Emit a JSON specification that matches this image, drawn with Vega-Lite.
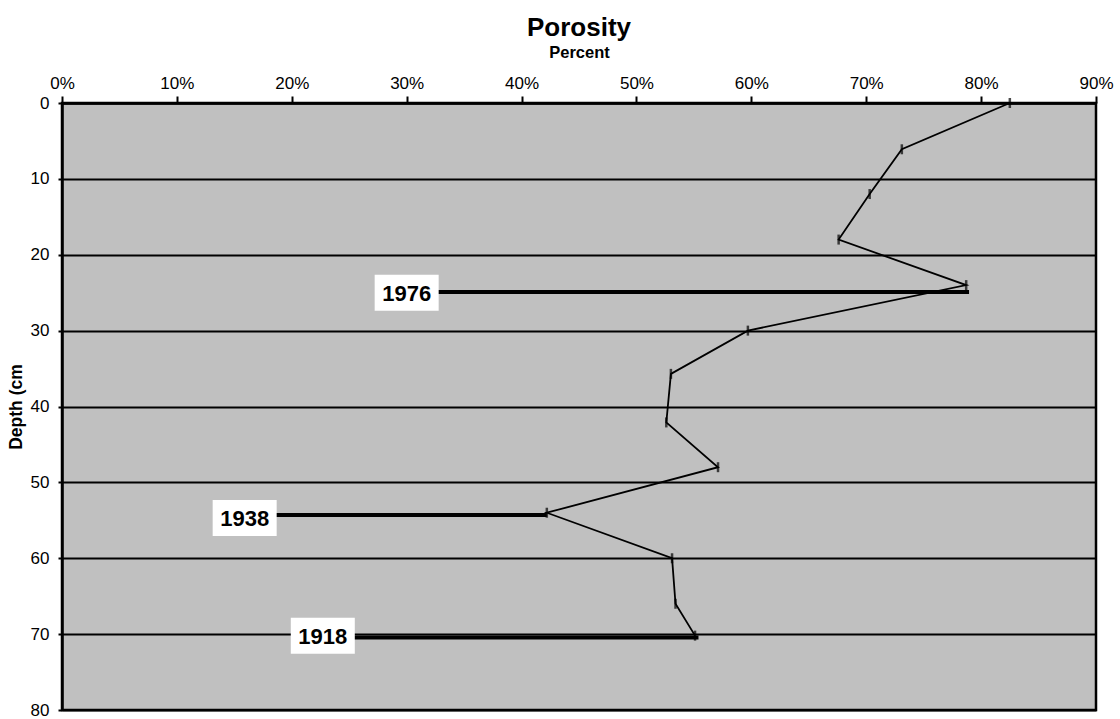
{
  "$schema": "https://vega.github.io/schema/vega-lite/v6.json",
  "width": 1034,
  "height": 607,
  "autosize": {"type": "none"},
  "padding": {"left": 62, "top": 103, "right": 24, "bottom": 9},
  "background": "white",
  "title": {"text": "Porosity", "fontSize": 26, "font": "Liberation Sans", "fontWeight": "bold", "color": "black", "anchor": "middle", "offset": 3},
  "config": {
    "view": {"fill": "#c0c0c0", "stroke": "black", "strokeWidth": 2.5},
    "axis": {"labelFont": "Liberation Sans", "labelFontSize": 17, "labelColor": "black", "labelFlush": false, "labelOverlap": false, "titleFont": "Liberation Sans", "titleFontWeight": "bold", "titleColor": "black", "domainColor": "black", "domainWidth": 2.5, "tickColor": "black", "tickWidth": 2, "gridColor": "black", "gridWidth": 2, "gridOpacity": 1}
  },
  "datasets": {
    "samples": [
      {"depth": 0, "porosity": 0.825},
      {"depth": 6.1, "porosity": 0.731},
      {"depth": 12, "porosity": 0.703},
      {"depth": 18, "porosity": 0.676},
      {"depth": 24, "porosity": 0.787},
      {"depth": 30, "porosity": 0.597},
      {"depth": 35.7, "porosity": 0.530},
      {"depth": 42.1, "porosity": 0.526},
      {"depth": 48, "porosity": 0.571},
      {"depth": 54, "porosity": 0.422},
      {"depth": 60, "porosity": 0.531},
      {"depth": 66, "porosity": 0.534},
      {"depth": 70.2, "porosity": 0.551}
    ],
    "events": [
      {"year": "1976", "start": 0.30, "end": 0.7895, "depth": 24.9, "labelDepth": 25.0},
      {"year": "1938", "start": 0.159, "end": 0.422, "depth": 54.3, "labelDepth": 54.7},
      {"year": "1918", "start": 0.227, "end": 0.554, "depth": 70.45, "labelDepth": 70.2}
    ]
  },
  "layer": [
    {
      "data": {"name": "samples"},
      "mark": {"type": "line", "color": "black", "strokeWidth": 1.8},
      "encoding": {
        "x": {"field": "porosity", "type": "quantitative", "scale": {"domain": [0, 0.9], "nice": false},
          "axis": {"orient": "top", "values": [0, 0.1, 0.2, 0.3, 0.4, 0.5, 0.6, 0.7, 0.8, 0.9], "format": ".0%", "grid": false, "tickSize": 7, "labelPadding": 4, "title": "Percent", "titleFontSize": 16.5, "titlePadding": 14}},
        "y": {"field": "depth", "type": "quantitative", "scale": {"domain": [0, 80], "reverse": true, "nice": false},
          "axis": {"values": [0, 10, 20, 30, 40, 50, 60, 70, 80], "grid": true, "tickSize": 4, "labelPadding": 9, "title": "Depth (cm", "titleFontSize": 17.5, "titlePadding": 5}},
        "order": {"field": "depth", "type": "quantitative"}
      }
    },
    {
      "data": {"name": "samples"},
      "mark": {"type": "tick", "orient": "vertical", "color": "black", "size": 10, "thickness": 2.5},
      "encoding": {
        "x": {"field": "porosity", "type": "quantitative"},
        "y": {"field": "depth", "type": "quantitative"}
      }
    },
    {
      "data": {"name": "events"},
      "mark": {"type": "rule", "color": "black", "strokeWidth": 4},
      "encoding": {
        "x": {"field": "start", "type": "quantitative"},
        "x2": {"field": "end"},
        "y": {"field": "depth", "type": "quantitative"}
      }
    },
    {
      "data": {"name": "events"},
      "mark": {"type": "point", "shape": "M-1,-0.5625L1,-0.5625L1,0.5625L-1,0.5625Z", "filled": true, "color": "white", "opacity": 1, "size": 4096, "strokeWidth": 0},
      "encoding": {
        "x": {"field": "start", "type": "quantitative"},
        "y": {"field": "labelDepth", "type": "quantitative"}
      }
    },
    {
      "data": {"name": "events"},
      "mark": {"type": "text", "font": "Liberation Sans", "fontSize": 22, "fontWeight": "bold", "color": "black", "align": "center", "baseline": "middle", "dy": 1},
      "encoding": {
        "x": {"field": "start", "type": "quantitative"},
        "y": {"field": "labelDepth", "type": "quantitative"},
        "text": {"field": "year"}
      }
    }
  ]
}
